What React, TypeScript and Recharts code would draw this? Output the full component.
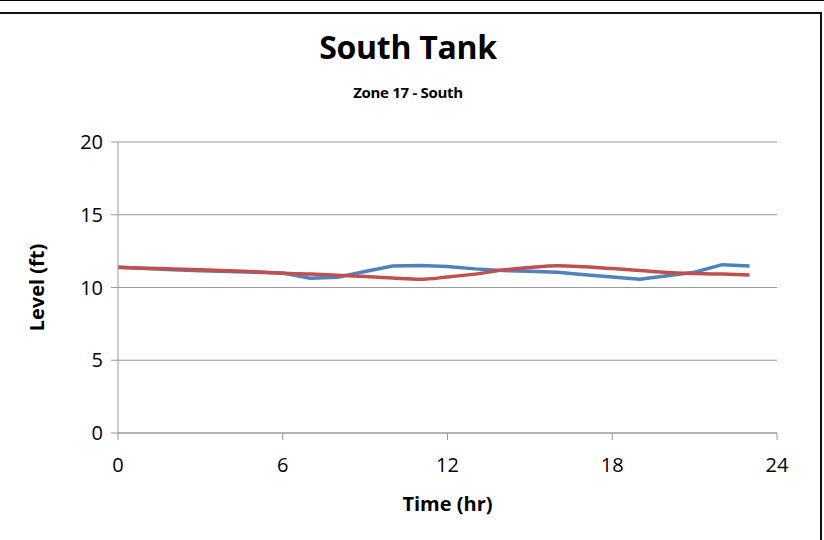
import React from "react";
import { LineChart, Line, XAxis, YAxis, CartesianGrid, Label } from "recharts";

const hours = [0, 1, 2, 3, 4, 5, 6, 7, 8, 9, 10, 11, 12, 13, 14, 15, 16, 17, 18, 19, 20, 21, 22, 23];
const blueLevel = [11.39, 11.3, 11.22, 11.15, 11.1, 11.05, 11.0, 10.63, 10.7, 11.1, 11.48, 11.52, 11.45, 11.28, 11.17, 11.12, 11.04, 10.88, 10.72, 10.56, 10.8, 11.05, 11.57, 11.48];
const redLevel = [11.39, 11.33, 11.28, 11.22, 11.15, 11.08, 10.98, 10.92, 10.85, 10.76, 10.65, 10.56, 10.72, 10.92, 11.2, 11.38, 11.5, 11.42, 11.3, 11.17, 11.03, 10.96, 10.92, 10.86];
const xTicks = [0, 6, 12, 18, 24];
const yTicks = [0, 5, 10, 15, 20];

const data = hours.map((h, i) => ({ t: h, blue: blueLevel[i], red: redLevel[i] }));

const FONT = "'Open Sans', 'Noto Sans', sans-serif";

export default function App() {
  return (
    <div style={{ position: "absolute", left: 0, top: 0, width: 824, height: 540, background: "#fff", overflow: "hidden", fontFamily: FONT }}>
      <div style={{ position: "absolute", left: 0, top: 0, width: 824, height: 1, background: "#000" }} />
      <div style={{ position: "absolute", left: 0, top: 12, width: 820, height: 540, borderTop: "2px solid #111", borderRight: "2px solid #111" }} />
      <div style={{ position: "absolute", left: 0, top: 25, width: 816, textAlign: "center", fontSize: 32, lineHeight: "44px", fontWeight: 700, letterSpacing: -0.3, color: "#000" }}>South Tank</div>
      <div style={{ position: "absolute", left: 0, top: 82, width: 816, textAlign: "center", fontSize: 15, lineHeight: "20px", fontWeight: 700, letterSpacing: -0.3, color: "#000" }}>Zone 17 - South</div>
      <div style={{ position: "absolute", left: 0, top: 0 }}>
        <LineChart width={824} height={540} data={data} margin={{ top: 142, right: 47, bottom: 77, left: 58 }}>
          <CartesianGrid horizontal={true} vertical={false} stroke="#999999" strokeWidth={1} />
          <XAxis
            dataKey="t"
            type="number"
            domain={[0, 24]}
            ticks={xTicks}
            height={30}
            axisLine={{ stroke: "#999999" }}
            tickLine={{ stroke: "#999999" }}
            tickSize={7}
            tickMargin={18}
            tick={{ fill: "#000", fontSize: 20, fontFamily: FONT }}
          >
            <Label value="Time (hr)" position="insideBottom" offset={-48} style={{ fontSize: 20, fontWeight: 700, fill: "#000", fontFamily: FONT }} />
          </XAxis>
          <YAxis
            type="number"
            domain={[0, 20]}
            ticks={yTicks}
            width={60}
            axisLine={{ stroke: "#999999" }}
            tickLine={{ stroke: "#999999" }}
            tickSize={7}
            tickMargin={8}
            tick={{ fill: "#000", fontSize: 20, fontFamily: FONT }}
          >
            <Label value="Level (ft)" angle={-90} position="insideLeft" offset={-21} style={{ fontSize: 20, fontWeight: 700, fill: "#000", fontFamily: FONT, textAnchor: "middle" }} />
          </YAxis>
          <Line type="linear" dataKey="blue" stroke="#4F81BD" strokeWidth={3.5} dot={false} isAnimationActive={false} />
          <Line type="monotone" dataKey="red" stroke="#C0504D" strokeWidth={3.5} dot={false} isAnimationActive={false} />
        </LineChart>
      </div>
    </div>
  );
}
